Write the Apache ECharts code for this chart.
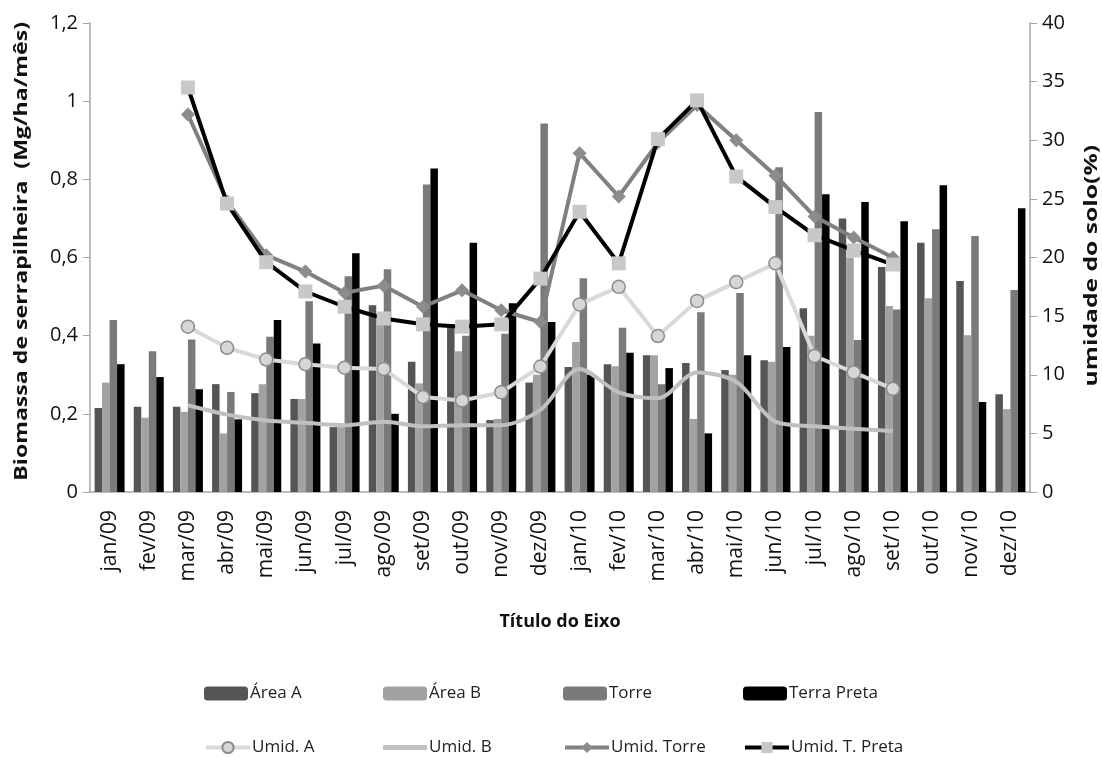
<!DOCTYPE html>
<html>
<head>
<meta charset="utf-8">
<script src="https://cdn.jsdelivr.net/npm/echarts@6/dist/echarts.min.js"></script>
<style>
html,body{margin:0;padding:0;background:#fff;}
#chart{width:1102px;height:758px;}
</style>
</head>
<body>
<div id="chart"></div>
<script>
var categories = ['jan/09','fev/09','mar/09','abr/09','mai/09','jun/09','jul/09','ago/09','set/09','out/09','nov/09','dez/09',
  'jan/10','fev/10','mar/10','abr/10','mai/10','jun/10','jul/10','ago/10','set/10','out/10','nov/10','dez/10'];

var areaA = [0.215,0.218,0.218,0.276,0.253,0.238,0.166,0.478,0.333,0.423,0.184,0.28,
  0.32,0.327,0.35,0.33,0.312,0.337,0.47,0.70,0.576,0.638,0.54,0.25];
var areaB = [0.28,0.19,0.205,0.15,0.276,0.238,0.166,0.44,0.278,0.36,0.187,0.30,
  0.384,0.322,0.35,0.187,0.30,0.333,0.40,0.60,0.476,0.496,0.401,0.212];
var torre = [0.44,0.36,0.39,0.256,0.397,0.488,0.552,0.57,0.787,0.40,0.405,0.943,
  0.547,0.42,0.276,0.46,0.509,0.831,0.972,0.389,0.467,0.672,0.655,0.517];
var terraPreta = [0.327,0.294,0.263,0.186,0.44,0.38,0.611,0.20,0.828,0.638,0.483,0.435,
  0.30,0.356,0.317,0.15,0.35,0.371,0.762,0.742,0.693,0.785,0.23,0.726];

var umidA = [null,null,14.1,12.3,11.3,10.9,10.6,10.5,8.1,7.8,8.5,10.7,
  16.0,17.5,13.3,16.3,17.9,19.5,11.6,10.2,8.8,null,null,null];
var umidB = [null,null,7.4,6.6,6.1,5.9,5.7,6.0,5.6,5.7,5.7,7.0,
  10.5,8.5,8.0,10.2,9.4,6.0,5.6,5.4,5.2,null,null,null];
var umidTorre = [null,null,32.2,24.8,20.2,18.8,17.0,17.6,15.8,17.2,15.5,14.5,
  28.9,25.2,29.8,33.0,30.0,27.0,23.5,21.7,20.0,null,null,null];
var umidTPreta = [null,null,34.5,24.6,19.6,17.1,15.8,14.8,14.3,14.1,14.3,18.2,
  23.9,19.5,30.1,33.4,26.9,24.3,21.9,20.6,19.4,null,null,null];

var leftTicks = ['0','0,2','0,4','0,6','0,8','1','1,2'];

var FONT = '"Open Sans", "Noto Sans", sans-serif';
var chart = echarts.init(document.getElementById('chart'), null, {renderer:'canvas'});

function barSeries(name, data, color){
  return {name:name, type:'bar', data:data, yAxisIndex:0, barWidth:7.5, barGap:'0%',
    itemStyle:{color:color}, z:2, emphasis:{disabled:true}};
}

var legendCols = [199, 378, 558, 738];
var legendNames = [['Área A','Área B','Torre','Terra Preta'],['Umid. A','Umid. B','Umid. Torre','Umid. T. Preta']];
var legends = [];
legendNames.forEach(function(row, r){
  row.forEach(function(n, c){
    var item = n;
    var ih = 14;
    if (n === 'Umid. B') { item = {name:n, icon:'rect'}; ih = 5; }
    legends.push({data:[item], left:legendCols[c], top: r===0 ? 680 : 734, itemWidth:44, itemHeight:ih,
      itemGap:4, selectedMode:false,
      lineStyle:{width:4},
      textStyle:{fontFamily:FONT, fontSize:17, color:'#222', padding:[0,0,0,-3]}});
  });
});

var option = {
  backgroundColor:'#fff',
  animation:false,
  legend: legends,
  grid:{left:90, right:72, top:23, bottom:266, containLabel:false},
  graphic:[
    {type:'text', left:14, top:22, rotation:Math.PI/2, scaleX:1.36,
      style:{text:'Biomassa de serrapilheira  (Mg/ha/mês)', fontFamily:FONT, fontWeight:'bold', fontSize:17, fill:'#111'}},
    {type:'text', left:1084, top:145, rotation:Math.PI/2, scaleX:1.45,
      style:{text:'umidade do solo(%)', fontFamily:FONT, fontWeight:'bold', fontSize:17, fill:'#111'}}
  ],
  xAxis:{type:'category', data:categories,
    axisLine:{lineStyle:{color:'#a6a6a6', width:1.5}}, axisTick:{show:false},
    axisLabel:{rotate:90, interval:0, fontFamily:FONT, fontSize:21, color:'#111', margin:18},
    name:'Título do Eixo', nameLocation:'middle', nameGap:121,
    nameTextStyle:{fontFamily:FONT, fontSize:18, fontWeight:'bold', color:'#111'}},
  yAxis:[
    {type:'value', min:0, max:1.2, interval:0.2, position:'left',
      axisLine:{show:true, lineStyle:{color:'#a6a6a6', width:1.5}},
      axisTick:{show:true, length:7, lineStyle:{color:'#a6a6a6'}},
      splitLine:{show:false},
      axisLabel:{fontFamily:FONT, fontSize:20, color:'#111', margin:12,
        formatter:function(v){ var i=Math.round(v/0.2); return leftTicks[i]; }}},
    {type:'value', min:0, max:40, interval:5, position:'right',
      axisLine:{show:true, lineStyle:{color:'#a6a6a6', width:1.5}},
      axisTick:{show:true, length:7, lineStyle:{color:'#a6a6a6'}},
      splitLine:{show:false},
      axisLabel:{fontFamily:FONT, fontSize:20, color:'#111', margin:12}}
  ],
  series:[
    barSeries('Área A', areaA, '#555555'),
    barSeries('Área B', areaB, '#a2a2a2'),
    barSeries('Torre', torre, '#7a7a7a'),
    barSeries('Terra Preta', terraPreta, '#000000'),
    {name:'Umid. A', type:'line', yAxisIndex:1, data:umidA, symbol:'circle', symbolSize:13,
      lineStyle:{color:'#d9d9d9', width:4}, itemStyle:{color:'#d6d6d6', borderColor:'#8c8c8c', borderWidth:1.5}, z:5, emphasis:{disabled:true}},
    {name:'Umid. B', type:'line', yAxisIndex:1, data:umidB, symbol:'none', smooth:0.3,
      lineStyle:{color:'#c0c0c0', width:4}, itemStyle:{color:'#c0c0c0'}, z:4, emphasis:{disabled:true}},
    {name:'Umid. Torre', type:'line', yAxisIndex:1, data:umidTorre, symbol:'diamond', symbolSize:14,
      lineStyle:{color:'#808080', width:4}, itemStyle:{color:'#8c8c8c'}, z:5, emphasis:{disabled:true}},
    {name:'Umid. T. Preta', type:'line', yAxisIndex:1, data:umidTPreta, symbol:'rect', symbolSize:14,
      lineStyle:{color:'#000000', width:4}, itemStyle:{color:'#c8c8c8'}, z:6, emphasis:{disabled:true}}
  ]
};
chart.setOption(option);
</script>
</body>
</html>
